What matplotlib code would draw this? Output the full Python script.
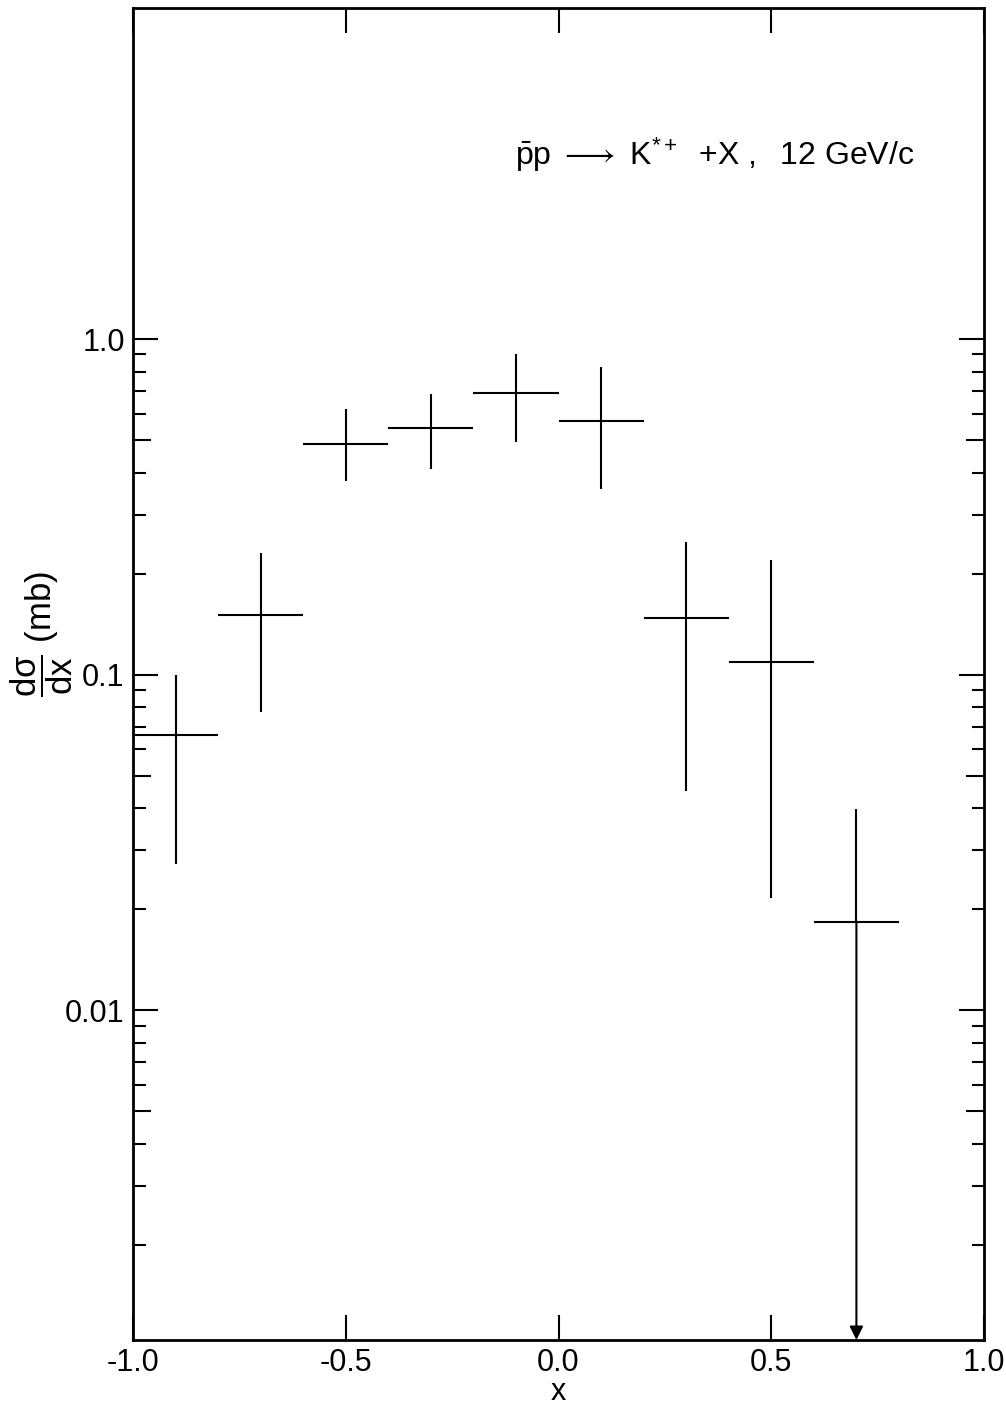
import matplotlib
matplotlib.use("Agg")
import matplotlib.pyplot as plt
from matplotlib.ticker import FixedLocator, NullFormatter, FixedFormatter

plt.rcParams['font.family'] = ['Liberation Sans', 'DejaVu Sans']
plt.rcParams['mathtext.fontset'] = 'custom'
plt.rcParams['mathtext.rm'] = 'Liberation Sans'
plt.rcParams['mathtext.it'] = 'Liberation Sans'
plt.rcParams['mathtext.bf'] = 'Liberation Sans'
plt.rcParams['axes.unicode_minus'] = False

# data
x_centers = [-0.9, -0.7, -0.5, -0.3, -0.1, 0.1, 0.3, 0.5]
x_halfwidth = [0.1, 0.1, 0.1, 0.1, 0.1, 0.1, 0.1, 0.1]
y_values = [0.066, 0.151, 0.486, 0.542, 0.690, 0.569, 0.147, 0.109]
y_upper = [0.100, 0.231, 0.618, 0.685, 0.902, 0.825, 0.249, 0.220]
y_lower = [0.0273, 0.0776, 0.377, 0.409, 0.493, 0.357, 0.0451, 0.0216]

# last point: error bar runs down to the axis (arrow)
lim_x = 0.7
lim_value = 0.0183
lim_upper = 0.0398

x_ticks = [-1.0, -0.5, 0.0, 0.5, 1.0]
x_ticklabels = ["-1.0", "-0.5", "0.0", "0.5", "1.0"]
y_ticks = [0.01, 0.1, 1.0]
y_ticklabels = ["0.01", "0.1", "1.0"]
y_minor = [0.002, 0.003, 0.004, 0.006, 0.007, 0.008, 0.009,
           0.02, 0.03, 0.04, 0.06, 0.07, 0.08, 0.09,
           0.2, 0.3, 0.4, 0.6, 0.7, 0.8, 0.9]
y_mid = [0.005, 0.05, 0.5]

ymin, ymax = 1.04e-3, 9.7

fig = plt.figure(figsize=(10.06, 14.09), dpi=100)
ax = fig.add_axes([0.1322, 0.049, 0.846, 0.9453])

yerr_lo = [v - lo for v, lo in zip(y_values, y_lower)]
yerr_hi = [hi - v for v, hi in zip(y_values, y_upper)]
ax.errorbar(x_centers, y_values, xerr=x_halfwidth, yerr=[yerr_lo, yerr_hi],
            fmt='none', ecolor='black', elinewidth=1.5, capsize=0)

ax.errorbar([lim_x], [lim_value], xerr=[0.1], yerr=[[0], [lim_upper - lim_value]],
            fmt='none', ecolor='black', elinewidth=1.5, capsize=0)
ax.annotate("", xy=(lim_x, ymin), xytext=(lim_x, lim_value),
            arrowprops=dict(arrowstyle='-|>', color='black', lw=1.5,
                            mutation_scale=20, shrinkA=0, shrinkB=0))

ax.set_yscale('log')
ax.set_xlim(-1.0, 1.0)
ax.set_ylim(ymin, ymax)

ax.xaxis.set_major_locator(FixedLocator(x_ticks))
ax.xaxis.set_major_formatter(FixedFormatter(x_ticklabels))
ax.yaxis.set_major_locator(FixedLocator(y_ticks))
ax.yaxis.set_major_formatter(FixedFormatter(y_ticklabels))
ax.yaxis.set_minor_locator(FixedLocator(y_minor))
ax.yaxis.set_minor_formatter(NullFormatter())

# medium ticks at 5, 50, 500 per decade
ax2 = ax.twinx()
ax2.set_yscale('log')
ax2.set_ylim(ymin, ymax)
ax2.yaxis.set_major_locator(FixedLocator(y_mid))
ax2.yaxis.set_minor_locator(FixedLocator([]))
ax2.tick_params(which='major', direction='in', left=True, right=True,
                labelleft=False, labelright=False, length=13, width=1.5)

ax.tick_params(which='both', direction='in', top=True, right=True, left=True,
               labelleft=True, labelright=False, labelsize=22, width=1.5)
ax.tick_params(which='major', length=18, pad=6)
ax.tick_params(which='minor', length=9)
for s in ax.spines.values():
    s.set_linewidth(2)

ax.set_xlabel("x", fontsize=22, labelpad=-1)
ax.set_ylabel(r"$\dfrac{\mathrm{d}\sigma}{\mathrm{d}x}$ (mb)", fontsize=25)
ax.yaxis.set_label_coords(-0.068, 0.530)

ax.text(0.449, 0.890,
        r"$\bar{\mathrm{p}}\mathrm{p}\ \longrightarrow\ \mathrm{K}^{*+}\ \ \mathrm{+X\ ,\ \ 12\ GeV/c}$",
        transform=ax.transAxes, fontsize=23, ha='left', va='center')

fig.savefig("out.png", dpi=100)
